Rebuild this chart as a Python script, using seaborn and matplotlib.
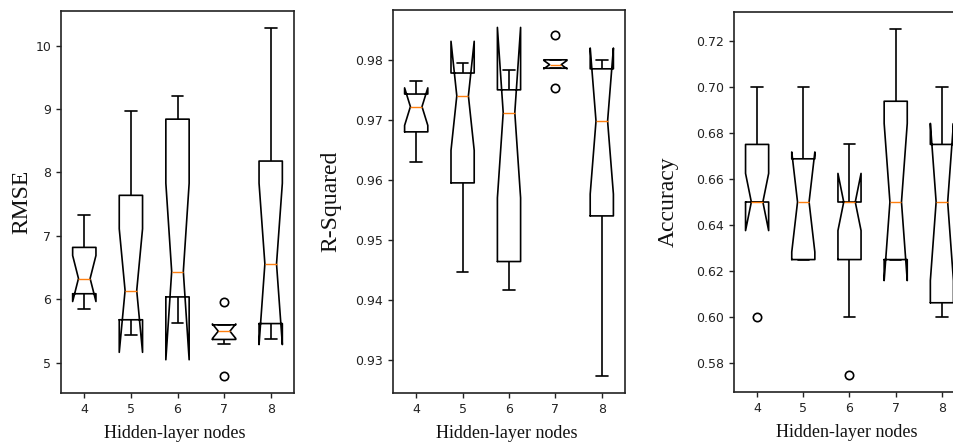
import numpy as np
import pandas as pd
import matplotlib
matplotlib.use("Agg")
import matplotlib.pyplot as plt
import seaborn as sns

nodes = ["4", "5", "6", "7", "8"]

# RMSE samples (10 runs per hidden-layer size)
rmse_4 = [5.85, 6.00, 6.09, 6.09, 6.29, 6.37, 6.82, 6.82, 7.05, 7.33]
rmse_5 = [5.44, 5.60, 5.68, 5.68, 5.95, 6.33, 7.64, 7.64, 8.20, 8.97]
rmse_6 = [5.63, 5.85, 6.04, 6.04, 6.30, 6.58, 8.84, 8.84, 9.00, 9.20]
rmse_7 = [4.80, 5.30, 5.37, 5.37, 5.48, 5.52, 5.60, 5.60, 5.60, 5.96]
rmse_8 = [5.37, 5.50, 5.62, 5.62, 6.40, 6.72, 8.18, 8.18, 9.10, 10.27]

# R-Squared samples
r2_4 = [0.9629, 0.9655, 0.9680, 0.9680, 0.9718, 0.9726, 0.9743, 0.9743, 0.9755, 0.9764]
r2_5 = [0.9446, 0.9520, 0.9595, 0.9595, 0.9735, 0.9745, 0.9778, 0.9778, 0.9788, 0.9795]
r2_6 = [0.9416, 0.9440, 0.9464, 0.9464, 0.9700, 0.9724, 0.9750, 0.9750, 0.9770, 0.9783]
r2_7 = [0.9753, 0.9786, 0.9786, 0.9786, 0.9791, 0.9793, 0.9800, 0.9800, 0.9800, 0.9841]
r2_8 = [0.9274, 0.9450, 0.9540, 0.9540, 0.9690, 0.9706, 0.9785, 0.9785, 0.9795, 0.9800]

# Accuracy samples
acc_4 = [0.600, 0.650, 0.650, 0.650, 0.650, 0.650, 0.675, 0.675, 0.700, 0.700]
acc_5 = [0.625, 0.625, 0.625, 0.625, 0.650, 0.650, 0.650, 0.675, 0.700, 0.700]
acc_6 = [0.575, 0.600, 0.625, 0.625, 0.650, 0.650, 0.650, 0.650, 0.650, 0.675]
acc_7 = [0.625, 0.625, 0.625, 0.625, 0.650, 0.650, 0.675, 0.700, 0.700, 0.725]
acc_8 = [0.600, 0.600, 0.600, 0.625, 0.650, 0.650, 0.675, 0.675, 0.700, 0.700]

panels = [
    ("RMSE", [rmse_4, rmse_5, rmse_6, rmse_7, rmse_8]),
    ("R-Squared", [r2_4, r2_5, r2_6, r2_7, r2_8]),
    ("Accuracy", [acc_4, acc_5, acc_6, acc_7, acc_8]),
]

sns.set_style("ticks")
plt.rcParams["font.family"] = ["DejaVu Sans"]

W, H = 954, 445
fig = plt.figure(figsize=(W / 100, H / 100), dpi=100)

# axes boxes in pixels: left, right, top, bottom
boxes = [(61, 294, 11, 393), (393, 625, 10, 393), (734, 965, 12, 392)]
ylabel_x = [-0.125, -0.222, -0.238]

for (name, groups), (l, r, t, b), ylx in zip(panels, boxes, ylabel_x):
    ax = fig.add_axes([l / W, 1 - b / H, (r - l) / W, (b - t) / H])
    df = pd.DataFrame({
        "nodes": np.repeat(nodes, [len(g) for g in groups]),
        "value": np.concatenate(groups),
    })
    sns.boxplot(
        data=df, x="nodes", y="value", order=nodes, ax=ax,
        width=0.5, fill=False, color="black", linecolor="black",
        linewidth=1.2, fliersize=6, notch=True,
        medianprops={"color": "#ff7f0e", "linewidth": 1.0},
        flierprops={"marker": "o", "markerfacecolor": "none",
                    "markeredgecolor": "black", "markeredgewidth": 1.2},
    )
    ax.set_xlim(-0.5, 4.5)
    for s in ax.spines.values():
        s.set_visible(True)
        s.set_color("#222222")
        s.set_linewidth(1.2)
    ax.tick_params(axis="both", labelsize=9, colors="#222222", length=3.5, width=1.0)
    ax.set_ylabel(name, family="Liberation Serif", fontsize=17, color="#111111")
    ax.set_xlabel("Hidden-layer nodes", family="Liberation Serif", fontsize=13,
                  color="#111111", va="top")
    ax.yaxis.set_label_coords(ylx, 0.5)
    ax.xaxis.set_label_coords(0.49, -0.083)

fig.savefig("out.png", dpi=100)
